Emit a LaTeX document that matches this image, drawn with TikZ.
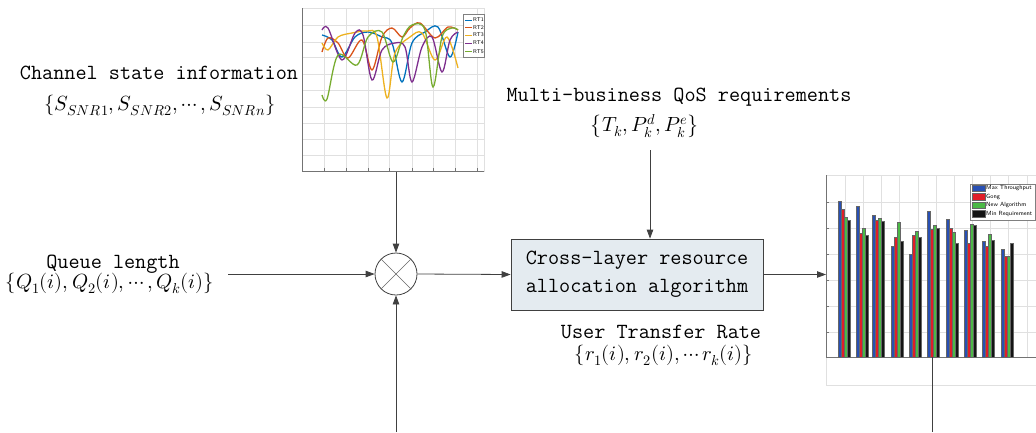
\documentclass[tikz,border=0pt]{standalone}
\usepackage{unicode-math}
\usetikzlibrary{arrows.meta}
\definecolor{boxfill}{RGB}{228,235,240}
\definecolor{mblue}{RGB}{0,114,189}
\definecolor{mred}{RGB}{217,83,25}
\definecolor{myel}{RGB}{237,177,32}
\definecolor{mpur}{RGB}{126,47,142}
\definecolor{mgrn}{RGB}{119,172,48}
\definecolor{bblue}{RGB}{40,80,180}
\definecolor{bred}{RGB}{225,30,40}
\definecolor{bgrn}{RGB}{75,185,70}
\definecolor{bblk}{RGB}{20,20,20}
\tikzset{
  lbl/.style={font=\fontsize{21.6}{28}\selectfont\ttfamily, inner sep=0pt},
  frm/.style={font=\fontsize{20.5}{24}\selectfont, inner sep=0pt},
  conn/.style={draw=black!75, line width=0.8pt, -{Triangle[length=9pt,width=6.5pt]}},
  plain/.style={draw=black!75, line width=0.8pt},
  grid/.style={draw=black!12, line width=0.5pt},
  curve/.style={line width=1.3pt, smooth, tension=0.55},
  chartframe/.style={draw=black!45, line width=0.6pt, inner sep=0pt},
}
\begin{document}
\begin{tikzpicture}[x=1pt,y=-1pt]
\useasboundingbox (0,0) rectangle (1036,432);

% ---------- top line chart ----------
\node[chartframe, draw=black!12, minimum width=182pt, minimum height=163pt, anchor=north west] (lc) at (302,8) {};
\foreach \gx in {324,346,368,389,412,433,455,477} \draw[grid] (\gx,8) -- (\gx,171);
\foreach \gy in {25,42,57,74,90,107,123,139,155} \draw[grid] (302,\gy) -- (484,\gy);
\draw[black!55, line width=0.7pt] (302,8) -- (302,171) -- (484,171);
\foreach \gx in {324,346,368,389,412,433,455,477} \draw[black!55, line width=0.5pt] (\gx,171) -- (\gx,168);
\draw[curve, mblue] plot coordinates {(322,35) (332,40) (342,57) (355,37) (368,32) (382,37) (392,43) (402,82) (412,43) (425,32) (438,27) (450,57) (458,32)};
\draw[curve, mred] plot coordinates {(322,52) (328,38) (338,43) (348,58) (362,40) (372,70) (382,37) (392,28) (402,37) (410,28) (420,23) (435,38) (448,27) (458,30)};
\draw[curve, myel] plot coordinates {(322,43) (328,50) (338,37) (352,33) (367,31) (377,37) (387,98) (395,53) (410,37) (422,33) (435,60) (447,37) (458,68)};
\draw[curve, mpur] plot coordinates {(322,30) (328,28) (342,60) (355,33) (363,35) (372,80) (382,50) (395,43) (405,47) (412,82) (422,47) (432,37) (442,72) (450,40) (458,32)};
\draw[curve, mgrn] plot coordinates {(322,95) (327,99) (338,55) (357,65) (368,37) (382,32) (393,62) (403,37) (412,25) (425,30) (433,87) (442,37) (452,28) (458,30)};
\draw[fill=white, draw=black!50, line width=0.4pt] (463,14) rectangle (484,57);
\foreach \c/\t/\ly in {mblue/RT1/20, mred/RT2/27.5, myel/RT3/35, mpur/RT4/43, mgrn/RT5/51.5} {
  \draw[\c, line width=1pt] (465,\ly) -- (472,\ly);
  \node[anchor=west, inner sep=0pt, font=\sffamily\fontsize{5.5}{6}\selectfont] at (473,\ly) {\t};
}

% ---------- bar chart ----------
\node[chartframe, draw=black!12, minimum width=210pt, minimum height=210pt, anchor=north west] (bc) at (826,175) {};
\foreach \gy in {202,228,254,280,306,332} \draw[grid] (826,\gy) -- (1036,\gy);
\foreach \gx in {845,863,881,899,918,936,954,972,990,1008,1027} \draw[grid] (\gx,175) -- (\gx,357);
\draw[black!55, line width=0.7pt] (826,175) -- (826,357) -- (1036,357);
\foreach \gy in {202,228,254,280,306,332} \draw[black!55, line width=0.5pt] (826,\gy) -- (829,\gy);
\foreach \xc/\b/\r/\g/\k in {844/200.7/209.3/217.3/220, 862/206/232.7/227.7/235.3, 878/214.7/220/218.3/221, 897/246/236.7/222.3/240.7, 915/254/235.3/231.3/237, 933/211/229/225/228, 952/218.7/228/232/243.3, 970/230/243.3/223.7/225.3, 988/240.7/246/234.3/239.7, 1007/248.7/256/256/243.3} {
  \filldraw[fill=bblue, draw=black!60, line width=0.3pt] ({\xc-6},357) rectangle ({\xc-3},\b);
  \filldraw[fill=bred, draw=black!60, line width=0.3pt] ({\xc-3},357) rectangle ({\xc},\r);
  \filldraw[fill=bgrn, draw=black!60, line width=0.3pt] ({\xc},357) rectangle ({\xc+3},\g);
  \filldraw[fill=bblk, draw=black!60, line width=0.3pt] ({\xc+3},357) rectangle ({\xc+6},\k);
}
\draw[fill=white, draw=black!50, line width=0.4pt] (970,184) rectangle (1035.5,220);
\foreach \c/\t/\ly in {bblue/Max Throughput/188, bred/Gong/196.5, bgrn/New Algorithm/205, bblk/Min Requirement/213.5} {
  \filldraw[fill=\c, draw=black!60, line width=0.3pt] (972,{\ly-3.3}) rectangle (985,{\ly+3.3});
  \node[anchor=west, inner sep=0pt, font=\sffamily\fontsize{6}{7}\selectfont] at (986,\ly) {\t};
}

% ---------- texts ----------
\node[lbl, anchor=base] (csi) at (159,79) {Channel state information};
\node[frm] (csif) at (160,105) {$\{S_{SNR1},S_{SNR2},\cdots,S_{SNRn}\}$};
\node[lbl, anchor=base] (qos) at (679,101) {Multi-business QoS requirements};
\node[frm] (qosf) at (645,126) {$\left\{T_k,P_k^d,P_k^e\right\}$};
\node[lbl, anchor=base] (ql) at (113,268) {Queue length};
\node[frm] (qlf) at (110,283) {$\{Q_1(i),Q_2(i),\cdots,Q_k(i)\}$};
\node[lbl, anchor=base] (utr) at (661,338) {User Transfer Rate};
\node[frm] (utrf) at (664,355) {$\{r_1(i),r_2(i),\cdots r_k(i)\}$};

% ---------- blocks ----------
\node[circle, draw=black!75, line width=0.8pt, minimum size=42pt, inner sep=0pt] (mix) at (396,274) {};
\draw[black!60, line width=0.6pt] (mix.north west) -- (mix.south east);
\draw[black!60, line width=0.6pt] (mix.north east) -- (mix.south west);
\node[lbl, draw=black!75, line width=0.8pt, fill=boxfill, minimum width=252pt, minimum height=71pt, align=center] (alg) at (637,274.5) {Cross-layer resource\\allocation algorithm};

% ---------- connectors ----------
\coordinate (qin) at (228,274);
\coordinate (bin) at (396,432);
\coordinate (qtop) at (650,150);
\coordinate (bend) at (932,432);
\draw[conn] (lc.south -| mix.north) -- (mix.north);
\draw[conn] (qin) -- (mix.west);
\draw[conn] (bin) -- (mix.south);
\draw[conn] (mix.east) -- (alg.west);
\draw[conn] (qtop) -- (qtop |- alg.north);
\draw[conn] (alg.east) -- (alg.east -| bc.west);
\draw[plain] (bend |- 0,357) -- (bend);
\end{tikzpicture}
\end{document}
